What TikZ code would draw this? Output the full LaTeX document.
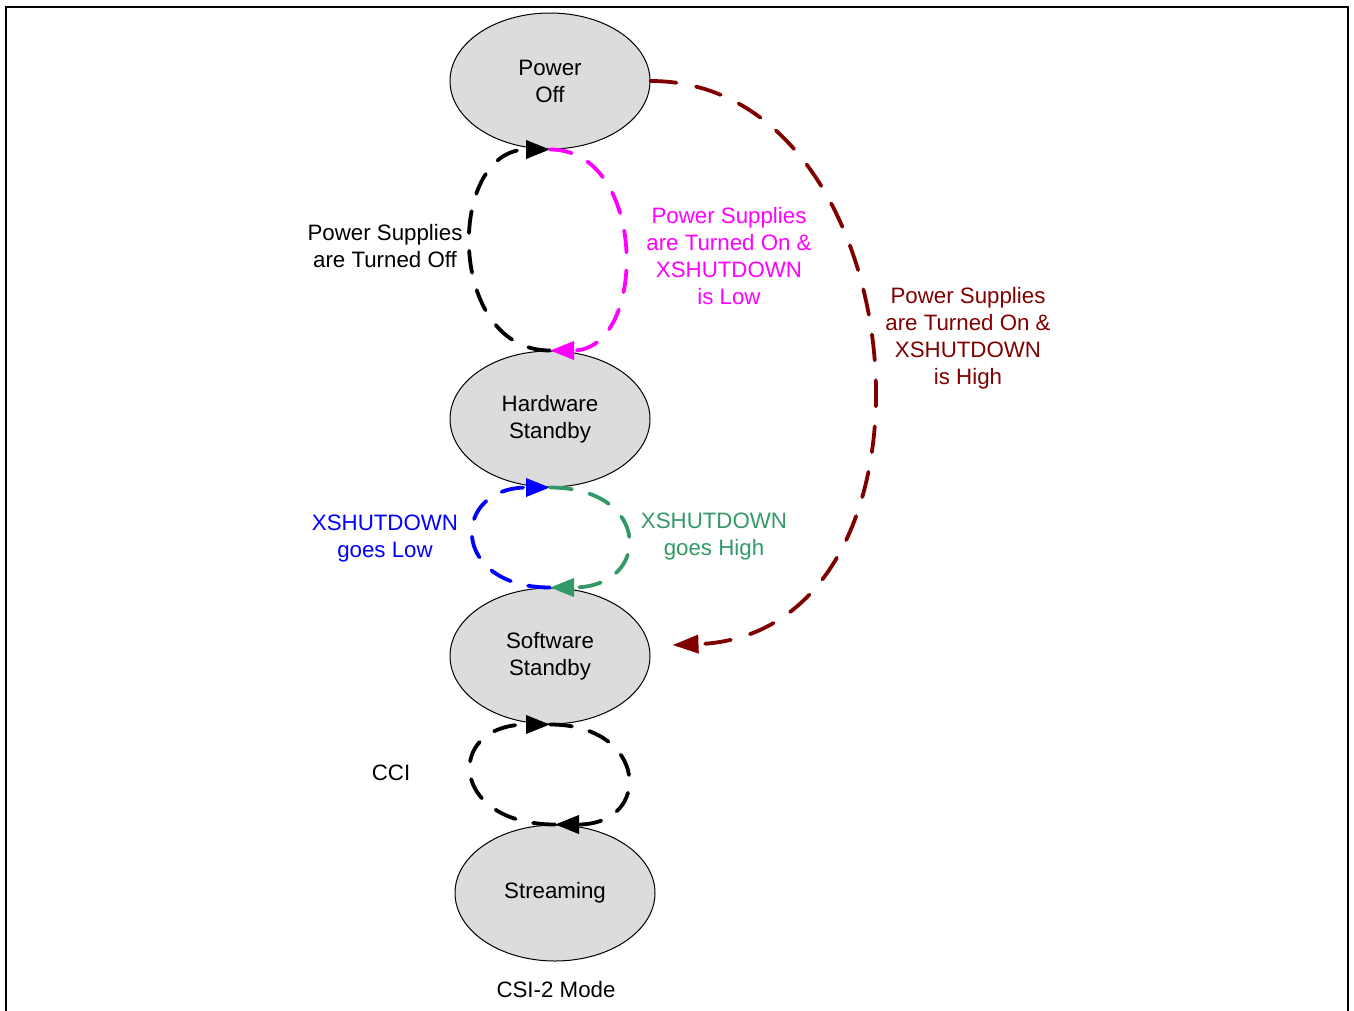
\documentclass[tikz,border=0pt]{standalone}
\usepackage{fontspec}
\setmainfont{Liberation Sans}
\usetikzlibrary{arrows.meta,shapes.geometric,calc}
\definecolor{statefill}{HTML}{DCDCDC}
\definecolor{pinkline}{HTML}{FF00FF}
\definecolor{darkredline}{HTML}{800000}
\definecolor{blueline}{HTML}{0000FF}
\definecolor{greenline}{HTML}{339966}
\begin{document}
\begin{tikzpicture}[x=1pt,y=-1pt,
  state/.style={ellipse,draw=black,line width=1pt,fill=statefill,
    minimum width=200pt,minimum height=136pt,inner sep=0pt,align=center,
    font=\fontsize{22.3}{27}\selectfont},
  lbl/.style={align=center,inner sep=0pt,font=\fontsize{22.3}{27}\selectfont},
  trans/.style={line width=3.8pt,dash pattern=on 22pt off 18pt,line cap=round,
    -{Triangle[length=24pt,width=18pt]}},
  longtrans/.style={line width=3.8pt,dash pattern=on 26pt off 20pt,line cap=round,
    -{Triangle[length=26pt,width=18pt]}},
]
\useasboundingbox (0,0) rectangle (1354,1010);
% frame
\draw[line width=2pt] (6,1012) -- (6,7) -- (1348,7) -- (1348,1012);

% states
\node[state] (po) at (550,81) {Power\\Off};
\node[state] (hw) at (550,419) {Hardware\\Standby};
\node[state] (sw) at (550,656) {Software\\Standby};
\node[state] (st) at (555,893) {Streaming};

% Power Off <-> Hardware Standby
\draw[trans,black] (hw.north) .. controls +(-104,0) and +(-104,0) .. (po.south);
\draw[trans,pinkline] (po.south) .. controls +(98,0) and +(98,0) .. (hw.north);

% Hardware Standby <-> Software Standby
\draw[trans,blueline] (sw.north) .. controls +(-100,0) and +(-100,0) .. (hw.south);
\draw[trans,greenline] (hw.south) .. controls +(102,0) and +(102,0) .. (sw.north);

% Software Standby <-> Streaming
\draw[trans,black] (st.north) .. controls +(-106,0) and +(-106,0) .. (sw.south);
\draw[trans,black] (sw.south) .. controls +(98,0) and +(98,0) .. (st.north);

% Power Off -> Software Standby
\coordinate (swin) at ($(sw.east)+(22,-11)$);
\draw[longtrans,darkredline] (po.east) .. controls +(270,0) and +(290,-10) .. (swin);

% labels
\node[lbl] (l1) at (385,246) {Power Supplies\\are Turned Off};
\node[lbl,text=pinkline] (l2) at (729,256) {Power Supplies\\are Turned On \&\\XSHUTDOWN\\is Low};
\node[lbl,text=darkredline] (l3) at (968,338) {Power Supplies\\are Turned On \&\\XSHUTDOWN\\is High};
\node[lbl,text=blueline] (l4) at (385,539) {XSHUTDOWN\\goes Low};
\node[lbl,text=greenline] (l5) at (714,537) {XSHUTDOWN\\goes High};
\node[lbl] (l6) at (391,773) {CCI};
\node[lbl] (l7) at (556,990) {CSI-2 Mode};
\end{tikzpicture}
\end{document}
